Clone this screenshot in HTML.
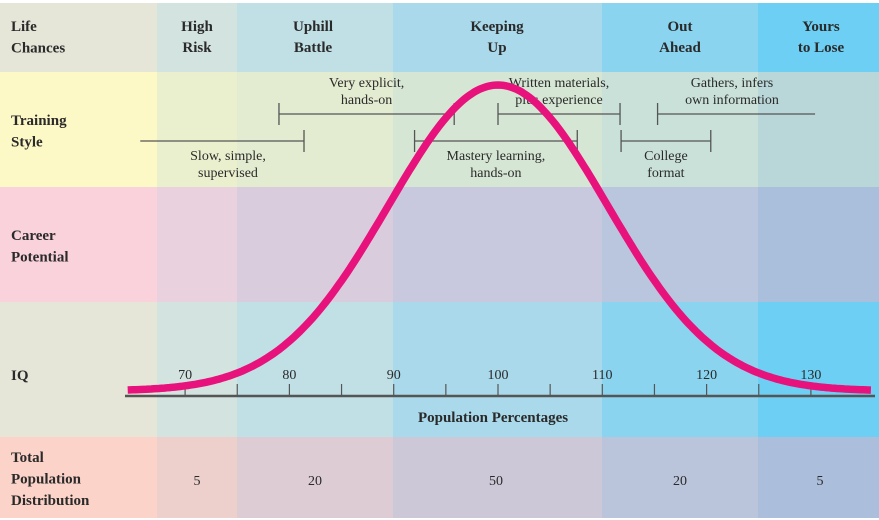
<!DOCTYPE html>
<html><head><meta charset="utf-8"><style>
html,body{margin:0;padding:0;background:#fff}
svg{display:block}
text{font-family:"Liberation Serif",serif;fill:#2a2a2a}
.b{font-weight:bold;font-size:15px}
.n{font-size:14px}
</style></head><body>
<svg id="chart" width="879" height="520" viewBox="0 0 879 520">
<g id="bg"></g>
<g id="txt"></g>
<g id="train"></g>
<g id="axis"></g>
<path id="curve" fill="none" stroke="#e8127c" stroke-width="7.5" stroke-linecap="butt"/>
</svg>
<script>
const colEdges=[0,157,237,393,602,758,879];
const rowEdges=[3,72,187,302,437,518];
const rowColors=[
 ["#e5e6d8","#d3e3e0","#c0e0e6","#a9d9ea","#8ad4f0","#6dcff3"],
 ["#fdf9c6","#eaf0cd","#e3ebd0","#d6e6d4","#c9e1d8","#b9d6d8"],
 ["#f9d2dc","#e9d1dd","#d9cddd","#c8c8de","#b9c6de","#a9bfdc"],
 ["#e5e6d8","#d3e3e0","#c0e0e6","#a9d9ea","#8ad4f0","#6dcff3"],
 ["#fbd3c8","#edd0cc","#ddccd4","#ccc8d8","#bac4da","#abbedc"]];
const rowTitles=[["Life","Chances"],["Training","Style"],["Career","Potential"],["IQ"],["Total","Population","Distribution"]];
const colTitles=[["High","Risk"],["Uphill","Battle"],["Keeping","Up"],["Out","Ahead"],["Yours","to Lose"]];
const distribution=[5,20,50,20,5];
const iqTicks=[70,80,90,100,110,120,130];
const trainingLabels=[["Very explicit,","hands-on"],["Slow, simple,","supervised"],["Mastery learning,","hands-on"],["Written materials,","plus experience"],["College","format"],["Gathers, infers","own information"]];
const trainingStart=[79,65.7,92,100,111.8,115.3];
const trainingEnd=[95.8,81.4,107.6,111.7,120.4,130.4];
const trainingRow=[0,1,1,0,1,0];
const capStart=[1,0,1,1,1,1];
const capEnd=[1,1,1,1,1,0];
const curveMean=[100];
const curveSd=[10.5];
const NS="http://www.w3.org/2000/svg";
const X=v=>498+(v-100)*10.43;
function el(p,t,a){const e=document.createElementNS(NS,t);for(const k in a)e.setAttribute(k,a[k]);p.appendChild(e);return e;}
const bg=document.getElementById('bg'),tx=document.getElementById('txt'),tr=document.getElementById('train'),ax=document.getElementById('axis');
for(let r=0;r<5;r++)for(let c=0;c<6;c++){
 const e=el(bg,'rect',{x:colEdges[c],y:rowEdges[r],width:colEdges[c+1]-colEdges[c],height:rowEdges[r+1]-rowEdges[r],fill:rowColors[r][c]});
 
 
}
const rowTitleY=[31,125,240,380,462];
rowTitles.forEach((ls,r)=>{ls.forEach((l,i)=>{const t=el(tx,'text',{x:11,y:rowTitleY[r]+i*21.5,class:'b'});t.textContent=l;
 
 });});
colTitles.forEach((ls,c)=>{const cx=[197,313,497,680,821][c];ls.forEach((l,i)=>{const t=el(tx,'text',{x:cx,y:31+i*21,class:'b','text-anchor':'middle'});t.textContent=l;
 
 });});
distribution.forEach((d,c)=>{const cx=[197,315,496,680,820][c];const t=el(tx,'text',{x:cx,y:485,class:'n','text-anchor':'middle'});t.textContent=d;
 
 });
trainingLabels.forEach((ls,i)=>{
 const y=trainingRow[i]?141:114, x1=X(trainingStart[i]), x2=X(trainingEnd[i]);
 const ln=el(tr,'line',{x1:x1,x2:x2,y1:y,y2:y,stroke:'#555','stroke-width':1.3});
 
 
 if(capStart[i])el(tr,'line',{x1:x1,x2:x1,y1:y-11,y2:y+11,stroke:'#555','stroke-width':1.3});
 if(capEnd[i])el(tr,'line',{x1:x2,x2:x2,y1:y-11,y2:y+11,stroke:'#555','stroke-width':1.3});
 const cx=(x1+x2)/2;
 const ty=trainingRow[i]?160:87;
 ls.forEach((l,j)=>{const t=el(tx,'text',{x:i==1?228:(i==5?732:cx),y:ty+j*17,class:'n','text-anchor':'middle'});t.textContent=l;
  
  });
});
const axl=el(ax,'line',{x1:125,x2:875,y1:396,y2:396,stroke:'#555','stroke-width':2.5});


for(let v=70;v<=130;v+=5){el(ax,'line',{x1:X(v),x2:X(v),y1:384,y2:396,stroke:'#555','stroke-width':1.2});}
iqTicks.forEach(v=>{const t=el(ax,'text',{x:X(v),y:379,class:'n','text-anchor':'middle'});t.textContent=v;
 
 });
const at=el(ax,'text',{x:493,y:422,class:'b','font-size':'14','text-anchor':'middle'});at.textContent='Population Percentages';


let d='';
for(let v=64.5;v<=135.8;v+=0.25){const z=(v-curveMean[0])/curveSd[0];const y=391-306*Math.exp(-z*z/2);d+=(d?'L':'M')+X(v).toFixed(1)+','+y.toFixed(1);}
document.getElementById('curve').setAttribute('d',d);
</script>
</body></html>
